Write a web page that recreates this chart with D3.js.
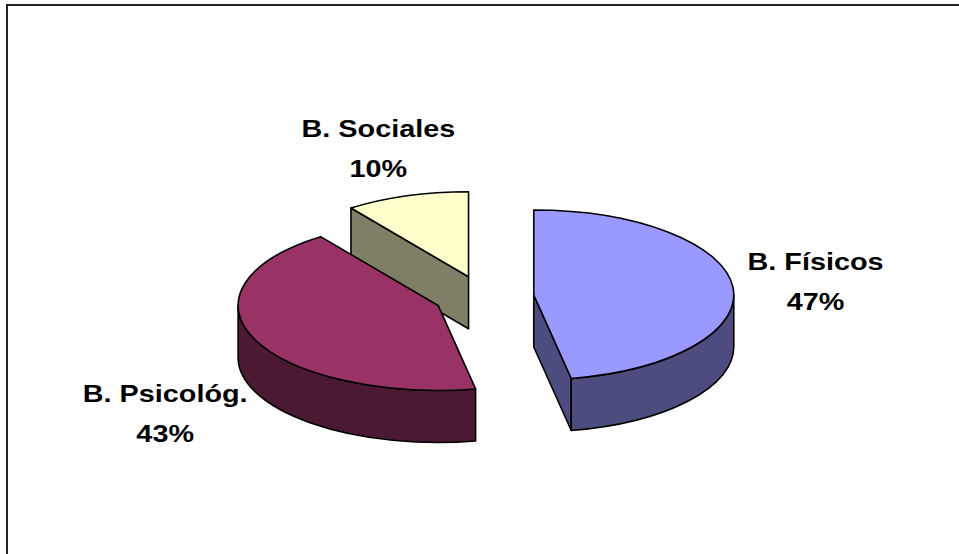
<!DOCTYPE html>
<html>
<head>
<meta charset="utf-8">
<script src="https://cdn.jsdelivr.net/npm/d3@7"></script>
<style>
  body { margin: 0; background: #fff; }
  .lbl { font-family: Arial, "Liberation Sans", sans-serif; font-weight: bold; font-size: 24px; fill: #000; }
  .face { stroke: #000; stroke-width: 1.6; stroke-linejoin: round; }
</style>
</head>
<body>
<div id="chart"></div>
<script>
const categories = ["B. Físicos", "B. Psicológ.", "B. Sociales"];
const values = [47, 43, 10];
const topColors = ["#9999ff", "#993366", "#ffffcc"];
const sideColors = ["#4c4c7f", "#4c1933", "#7f7f66"];

const width = 959, height = 554;
// pie geometry (3d look: ellipse + extruded side)
const cx = 484, cy = 297, rx = 200, ry = 85, depth = 52, explode = 0.25;
const labelGap = 15, textStretch = 1.2;

const svg = d3.select("#chart").append("svg")
  .attr("width", width)
  .attr("height", height);

// frame (only top and left edge fall inside the picture)
svg.append("path")
  .attr("d", "M7," + height + "V5H" + width)
  .attr("fill", "none")
  .attr("stroke", "#222")
  .attr("stroke-width", 2);

const total = d3.sum(values);
const slices = d3.pie().sort(null).value(d => d)(values).map((s, i) => {
  const mid = (s.startAngle + s.endAngle) / 2;
  return {
    i: i,
    a0: s.startAngle,
    a1: s.endAngle,
    mid: mid,
    ox: cx + explode * rx * Math.sin(mid),
    oy: cy - explode * ry * Math.cos(mid),
    raw: s
  };
});

function pt(s, a, dy) {
  return [s.ox + rx * Math.sin(a), s.oy - ry * Math.cos(a) + (dy || 0)];
}

const topArc = d3.arc().innerRadius(0).outerRadius(rx);

// paint back to front
const order = slices.slice().sort((a, b) => a.oy - b.oy);

order.forEach(function(s) {
  const g = svg.append("g").attr("class", "slice");

  // cut walls that face the viewer
  [[s.a0, Math.sin(s.a0) < -1e-6], [s.a1, Math.sin(s.a1) > 1e-6]].forEach(function(w) {
    if (!w[1]) return;
    const p = pt(s, w[0]), q = pt(s, w[0], depth);
    g.append("path")
      .attr("class", "face")
      .attr("d", `M${s.ox},${s.oy}L${p}L${q}L${s.ox},${s.oy + depth}Z`)
      .attr("fill", sideColors[s.i]);
  });

  // outer rim, front half only
  const st = Math.max(s.a0, Math.PI / 2), en = Math.min(s.a1, Math.PI * 1.5);
  if (st < en) {
    const large = (en - st) > Math.PI ? 1 : 0;
    const p0 = pt(s, st), p1 = pt(s, en), p2 = pt(s, en, depth), p3 = pt(s, st, depth);
    g.append("path")
      .attr("class", "face")
      .attr("d", `M${p0}A${rx},${ry} 0 ${large} 1 ${p1}L${p2}A${rx},${ry} 0 ${large} 0 ${p3}Z`)
      .attr("fill", sideColors[s.i]);
  }

  // top face
  g.append("path")
    .attr("class", "face")
    .attr("d", topArc(s.raw))
    .attr("transform", `translate(${s.ox},${s.oy}) scale(1,${ry / rx})`)
    .attr("vector-effect", "non-scaling-stroke")
    .attr("fill", topColors[s.i]);
});

// labels: name + percent, pushed outside along mid angle
slices.forEach(function(s) {
  const lg = svg.append("g");
  const inner = lg.append("g").attr("transform", `scale(${textStretch},1)`);
  const t = inner.append("text").attr("class", "lbl").attr("text-anchor", "middle");
  t.append("tspan").attr("x", 0).attr("y", 0).text(categories[s.i]);
  t.append("tspan").attr("x", 0).attr("y", 40)
    .text(Math.round(values[s.i] / total * 100) + "%");

  const bb = t.node().getBBox();
  const halfW = bb.width * textStretch / 2;
  const halfH = 34;
  const sn = Math.sin(s.mid), cs = Math.cos(s.mid);
  const ex = s.ox + (rx + labelGap) * sn;
  const ey = s.oy - (ry + labelGap) * cs + (cs < 0 ? depth + 3 : 0);
  const bx = ex + halfW * sn;
  const by = ey - halfH * cs;
  lg.attr("transform", `translate(${bx},${by - 12})`);
});
</script>
</body>
</html>
